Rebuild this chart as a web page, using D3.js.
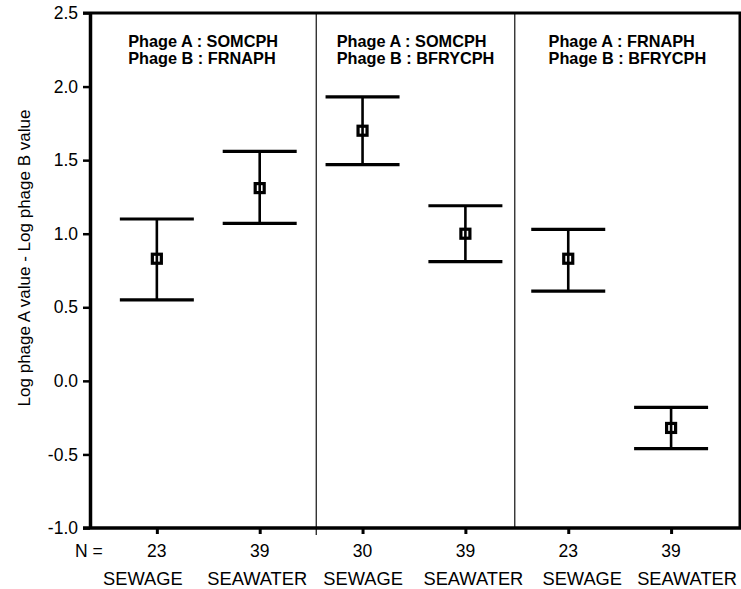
<!doctype html>
<html lang="en">

<head>
  <meta charset="UTF-8">
  <title>Log phage A - Log phage B</title>
  <style type="text/css">
    body { margin: 0; background: #fff; }
    svg { display: block; font-family: Arial, "Liberation Sans", sans-serif; }
  </style>
  <script src="https://cdn.jsdelivr.net/npm/d3@7"></script>
</head>

<body>
  <svg width="741" height="589"></svg>
  <script>
    // data
    let categories = ["SEWAGE", "SEAWATER", "SEWAGE", "SEAWATER", "SEWAGE", "SEAWATER"]
    let nValues = [23, 39, 30, 39, 23, 39]
    let means = [0.83, 1.31, 1.70, 1.00, 0.83, -0.32]
    let upper = [1.10, 1.56, 1.93, 1.19, 1.03, -0.18]
    let lower = [0.55, 1.07, 1.47, 0.81, 0.61, -0.46]
    let panelTitles = [
      ["Phage A : SOMCPH", "Phage B : FRNAPH"],
      ["Phage A : SOMCPH", "Phage B : BFRYCPH"],
      ["Phage A : FRNAPH", "Phage B : BFRYCPH"]
    ]
    let panelBreaks = [1.55, 3.48]
    let yTicks = [-1.0, -0.5, 0.0, 0.5, 1.0, 1.5, 2.0, 2.5]

    let svg = d3.select('svg')
    let plotLeft = 90, plotRight = 740, plotTop = 13, plotBottom = 528
    let capHalf = 37
    // the category names are not quite centred under their ticks in the original
    let catNudge = [-14, -2.5, 0.5, 8, 14, 16]

    let x = d3.scaleLinear().domain([-0.65, 5.67]).range([plotLeft, plotRight])
    let y = d3.scaleLinear().domain([-1, 2.5]).range([plotBottom, plotTop])

    // panel dividers
    svg.selectAll("line.divider")
      .data(panelBreaks)
      .enter().append("line")
      .attr("class", "divider")
      .attr("x1", d => x(d)).attr("x2", d => x(d))
      .attr("y1", plotTop).attr("y2", (d, i) => i === 0 ? plotBottom + 7 : plotBottom)
      .attr("stroke", "#222").attr("stroke-width", 1.3)

    // frame: top and right
    svg.append("line")
      .attr("x1", plotLeft - 7).attr("x2", plotRight + 1.5)
      .attr("y1", plotTop).attr("y2", plotTop)
      .attr("stroke", "#000").attr("stroke-width", 3)
    svg.append("line")
      .attr("x1", plotRight).attr("x2", plotRight)
      .attr("y1", plotTop).attr("y2", plotBottom)
      .attr("stroke", "#000").attr("stroke-width", 3)

    // y axis
    let yAxis = svg.append("g")
      .attr("transform", "translate(" + plotLeft + ",0)")
      .call(d3.axisLeft(y).tickValues(yTicks).tickFormat(d => d.toFixed(1)).tickSize(7).tickSizeOuter(0).tickPadding(5))
    yAxis.select(".domain").attr("stroke-width", 3.5)
    yAxis.selectAll(".tick line").attr("stroke-width", 2.5)
    yAxis.selectAll(".tick text").attr("font-size", 17.5).attr("fill", "#000")
      .style("font-family", "Arial, 'Liberation Sans', sans-serif")

    // x axis
    let xAxis = svg.append("g")
      .attr("transform", "translate(0," + plotBottom + ")")
      .call(d3.axisBottom(x).tickValues(d3.range(categories.length)).tickFormat("").tickSize(6).tickSizeOuter(0))
    xAxis.select(".domain").attr("d", "M" + (plotLeft - 7) + ",0H" + (plotRight + 1.5)).attr("stroke-width", 3.5)
    xAxis.selectAll(".tick line").attr("stroke-width", 3)

    // N row and category names
    svg.append("text")
      .attr("x", 75).attr("y", 557)
      .attr("font-size", 17.5)
      .text("N =")
    svg.selectAll("text.nval")
      .data(nValues)
      .enter().append("text")
      .attr("class", "nval")
      .attr("x", (d, i) => x(i)).attr("y", 557)
      .attr("text-anchor", "middle").attr("font-size", 17.5)
      .text(d => d)
    svg.selectAll("text.cat")
      .data(categories)
      .enter().append("text")
      .attr("class", "cat")
      .attr("x", (d, i) => x(i) + catNudge[i]).attr("y", 585)
      .attr("text-anchor", "middle").attr("font-size", 18.3)
      .text(d => d)

    // y title
    svg.append("text")
      .attr("transform", "translate(30,258) rotate(-90)")
      .attr("text-anchor", "middle").attr("font-size", 17)
      .text("Log phage A value - Log phage B value")

    // panel titles
    let panelEdges = [-0.65].concat(panelBreaks, [5.67])
    panelTitles.forEach(function (lines, i) {
      let g = svg.append("g")
      g.selectAll("text")
        .data(lines)
        .enter().append("text")
        .attr("x", 0).attr("y", (d, j) => 47 + j * 17)
        .attr("font-size", 16.3).attr("font-weight", "bold")
        .text(d => d)
      let w = d3.max(g.selectAll("text").nodes(), n => n.getComputedTextLength())
      let cx = (x(panelEdges[i]) + x(panelEdges[i + 1])) / 2
      g.attr("transform", "translate(" + (cx - w / 2) + ",0)")
    })

    // error bars
    let bars = svg.selectAll("g.bar")
      .data(means.map((m, i) => ({ i: i, m: m, lo: lower[i], hi: upper[i] })))
      .enter().append("g")
      .attr("class", "bar")
    bars.append("line")
      .attr("x1", d => x(d.i) - capHalf).attr("x2", d => x(d.i) + capHalf)
      .attr("y1", d => y(d.hi)).attr("y2", d => y(d.hi))
      .attr("stroke", "#000").attr("stroke-width", 3.2)
    bars.append("line")
      .attr("x1", d => x(d.i) - capHalf).attr("x2", d => x(d.i) + capHalf)
      .attr("y1", d => y(d.lo)).attr("y2", d => y(d.lo))
      .attr("stroke", "#000").attr("stroke-width", 3.2)
    bars.append("rect")
      .attr("x", d => x(d.i) - 4.5).attr("y", d => y(d.m) - 4.5)
      .attr("width", 9).attr("height", 9)
      .attr("fill", "#fff").attr("stroke", "#000").attr("stroke-width", 3.2)
    bars.append("line")
      .attr("x1", d => x(d.i)).attr("x2", d => x(d.i))
      .attr("y1", d => y(d.hi)).attr("y2", d => y(d.lo))
      .attr("stroke", "#000").attr("stroke-width", 2.6)
  </script>
</body>

</html>
